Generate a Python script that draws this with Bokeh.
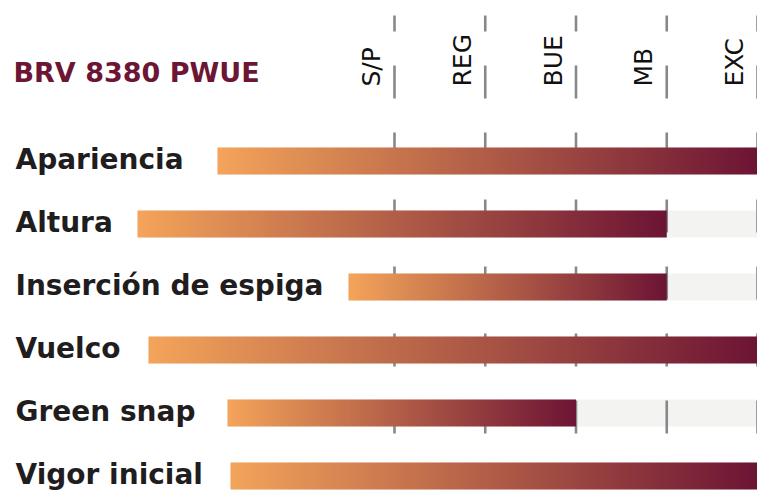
import numpy as np
from bokeh.plotting import figure
from bokeh.models import Range1d
from bokeh.core.properties import value
from bokeh.embed import file_html
from bokeh.resources import INLINE

# ---------------- data ----------------
title_text = "BRV 8380 PWUE"
scale_labels = ["S/P", "REG", "BUE", "MB", "EXC"]
scale_values = [1, 2, 3, 4, 5]
traits = ["Apariencia", "Altura", "Inserción de espiga", "Vuelco", "Green snap", "Vigor inicial"]
ratings = [5, 4, 4, 5, 3, 5]

# ---------------- layout ----------------
W, H = 757, 491
STEP = 90.75

def ux(px):  # reference pixel -> rating units
    return 1 + (px - 394) / STEP
def uy(py):  # reference pixel -> row units
    return (py - 160.5) / 63.0

X0, X1 = ux(0), ux(W)
Y_TOP, Y_BOT = uy(0), uy(H)

def x_to_px(x):
    return (x - X0) / (X1 - X0) * W

bar_start_px = [217, 137, 348, 148, 227, 230]   # bars begin after each label
bar_h = 27 / 63.0
c_start = np.array([244, 164, 90])
c_end = np.array([108, 20, 52])

p = figure(width=W, height=H, output_backend="svg", toolbar_location=None,
           x_range=Range1d(X0, X1), y_range=Range1d(Y_BOT, Y_TOP),
           min_border=0, background_fill_color="white", border_fill_color="white")
p.axis.visible = False
p.grid.visible = False
p.outline_line_color = None

rows = list(range(len(traits)))
max_v = max(scale_values)
lefts = [ux(s) for s in bar_start_px]

# grey track
p.quad(left=lefts, right=[max_v] * len(rows),
       top=[r - bar_h / 2 for r in rows], bottom=[r + bar_h / 2 for r in rows],
       fill_color="#F3F3F1", line_color=None)

# dashed scale lines
p.segment(x0=scale_values, x1=scale_values, y0=[uy(15)] * 5, y1=[uy(437)] * 5,
          line_color="#858989", line_width=2.6, line_dash="33 34", line_dash_offset=17)

# gradient bars as RGBA images
imgs, xs, ys, dws, dhs = [], [], [], [], []
for r, l, v in zip(rows, lefts, ratings):
    n = max(2, int(round(x_to_px(v) - x_to_px(l))))
    t = (np.arange(n) + 0.5) / n
    cols = c_start[None, :] + (c_end - c_start)[None, :] * t[:, None]
    img = np.empty((1, n), dtype=np.uint32)
    view = img.view(dtype=np.uint8).reshape((1, n, 4))
    view[0, :, 0:3] = np.round(cols).astype(np.uint8)
    view[0, :, 3] = 255
    imgs.append(img); xs.append(l); ys.append(r - bar_h / 2)
    dws.append(v - l); dhs.append(bar_h)
p.image_rgba(image=imgs, x=xs, y=ys, dw=dws, dh=dhs)

# trait labels
p.text(x=[ux(15)] * len(rows), y=[r - 2 / 63.0 for r in rows], text=traits,
       text_font=value("DejaVu Sans"), text_font_style="bold", text_font_size="28px",
       text_color="#1f1d1e", text_align="left", text_baseline="alphabetic")

# title
p.text(x=[ux(13)], y=[uy(72)], text=[title_text],
       text_font=value("DejaVu Sans"), text_font_style="bold", text_font_size="27px",
       text_color="#6c1535", text_align="left", text_baseline="alphabetic")

# scale headers (rotated)
p.text(x=[v - 23 / STEP for v in scale_values], y=[uy(86)] * 5, text=scale_labels,
       angle=np.pi / 2, text_font=value("DejaVu Sans"), text_font_size="25px",
       text_color="#111111", text_align="left", text_baseline="alphabetic")

open("out.html", "w").write(file_html(p, INLINE))
